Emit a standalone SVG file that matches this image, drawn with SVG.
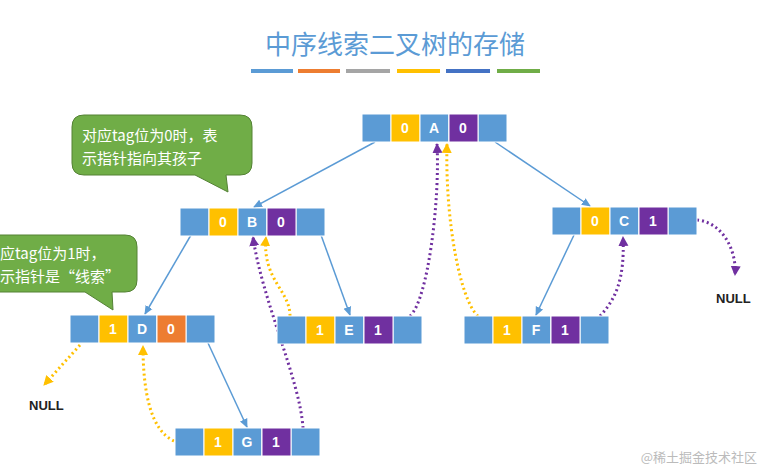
<svg xmlns="http://www.w3.org/2000/svg" width="765" height="470" viewBox="0 0 765 470">
<style>
.c{stroke:#fff;stroke-width:1}
.b{fill:#5b9bd5}.y{fill:#ffc000}.p{fill:#7030a0}.o{fill:#ed7d31}
.t{font-family:"Liberation Sans",sans-serif;font-weight:bold;font-size:14px;fill:#fff;text-anchor:middle}
.e{stroke:#5b9bd5;stroke-width:1.5;fill:none;marker-end:url(#ab)}
.dy{stroke:#ffc000;stroke-width:3;stroke-dasharray:2 3;fill:none;marker-end:url(#ay)}
.dp{stroke:#7030a0;stroke-width:3;stroke-dasharray:2 3;fill:none;marker-end:url(#ap)}
.n{font-family:"Liberation Sans",sans-serif;font-weight:bold;font-size:13px;fill:#222}
.g{font-family:"Noto Sans CJK SC",sans-serif;font-size:15px;fill:#fff}
</style>
<defs>
<marker id="ab" markerWidth="10" markerHeight="10" refX="8" refY="5" orient="auto" markerUnits="userSpaceOnUse"><path d="M0,1L9,5L0,9z" fill="#5b9bd5"/></marker>
<marker id="ay" markerWidth="12" markerHeight="12" refX="9" refY="6" orient="auto" markerUnits="userSpaceOnUse"><path d="M0,1L10,6L0,11z" fill="#ffc000"/></marker>
<marker id="ap" markerWidth="12" markerHeight="12" refX="9" refY="6" orient="auto" markerUnits="userSpaceOnUse"><path d="M0,1L10,6L0,11z" fill="#7030a0"/></marker>
<g id="cell">
<rect class="c b" x="0" y="0" width="29" height="28"/>
<rect class="c y" x="29" y="0" width="29" height="28"/>
<rect class="c b" x="58" y="0" width="29" height="28"/>
<rect class="c b" x="87" y="0" width="29" height="28"/>
<rect class="c b" x="116" y="0" width="29" height="28"/>
</g>
</defs>
<rect width="765" height="470" fill="#fff"/>
<text x="395" y="54" text-anchor="middle" font-family="Noto Sans CJK SC,sans-serif" font-size="26" fill="#5b9bd5">中序线索二叉树的存储</text>
<g stroke-width="4">
<line x1="251" y1="71" x2="293" y2="71" stroke="#5b9bd5"/>
<line x1="298" y1="71" x2="340" y2="71" stroke="#ed7d31"/>
<line x1="346" y1="71" x2="390" y2="71" stroke="#a5a5a5"/>
<line x1="397" y1="71" x2="440" y2="71" stroke="#ffc000"/>
<line x1="446" y1="71" x2="490" y2="71" stroke="#4472c4"/>
<line x1="497" y1="71" x2="540" y2="71" stroke="#70ad47"/>
</g>
<g id="callout1">
<path d="M84,115H240Q252,115 252,127V163Q252,175 240,175H226L228,192L195,175H84Q72,175 72,163V127Q72,115 84,115Z" fill="#70ad47" stroke="#548235"/>
<text class="g" x="82" y="141">对应tag位为0时，表</text>
<text class="g" x="82" y="164">示指针指向其孩子</text>
</g>
<g id="callout2">
<path d="M-10,235H125Q137,235 137,247V280Q137,292 125,292H112L113,310L85,292H-10Z" fill="#70ad47" stroke="#548235"/>
<text class="g" x="0" y="259">应tag位为1时，</text>
<text class="g" x="0" y="282">示指针是“线索”</text>
</g>
<g id="connectors">
<line class="e" x1="375" y1="142" x2="254" y2="207"/>
<line class="e" x1="495" y1="142" x2="590" y2="206"/>
<line class="e" x1="191" y1="235" x2="145" y2="314"/>
<line class="e" x1="321" y1="235" x2="350" y2="315"/>
<line class="e" x1="574" y1="235" x2="536" y2="315"/>
<line class="e" x1="208" y1="343" x2="247" y2="427"/>
<path class="dy" d="M80,345L44,385"/>
<path class="dy" d="M174,441C150,430 143,390 143,346"/>
<path class="dp" d="M303,428C300,380 262,300 253,237"/>
<path class="dy" d="M290,316C290,290 262,280 266,237"/>
<path class="dp" d="M410,316C428,300 440,200 437,144"/>
<path class="dy" d="M478,316C460,300 445,220 447,144"/>
<path class="dp" d="M600,316C615,300 625,280 623,237"/>
<path class="dp" d="M697,220C722,222 737,250 735,275"/>
</g>
<g id="A"><use href="#cell" x="362" y="114"/><rect class="c p" x="449" y="114" width="29" height="28"/><text class="t" x="405" y="133">0</text><text class="t" x="434" y="133">A</text><text class="t" x="463" y="133">0</text></g>
<g id="B"><use href="#cell" x="180" y="208"/><rect class="c p" x="267" y="208" width="29" height="28"/><text class="t" x="223" y="227">0</text><text class="t" x="252" y="227">B</text><text class="t" x="281" y="227">0</text></g>
<g id="C"><use href="#cell" x="552" y="207"/><rect class="c p" x="639" y="207" width="29" height="28"/><text class="t" x="595" y="226">0</text><text class="t" x="624" y="226">C</text><text class="t" x="653" y="226">1</text></g>
<g id="D"><use href="#cell" x="70" y="315"/><rect class="c o" x="157" y="315" width="29" height="28"/><text class="t" x="113" y="334">1</text><text class="t" x="142" y="334">D</text><text class="t" x="171" y="334">0</text></g>
<g id="E"><use href="#cell" x="277" y="316"/><rect class="c p" x="364" y="316" width="29" height="28"/><text class="t" x="320" y="335">1</text><text class="t" x="349" y="335">E</text><text class="t" x="378" y="335">1</text></g>
<g id="F"><use href="#cell" x="464" y="316"/><rect class="c p" x="551" y="316" width="29" height="28"/><text class="t" x="507" y="335">1</text><text class="t" x="536" y="335">F</text><text class="t" x="565" y="335">1</text></g>
<g id="G"><use href="#cell" x="175" y="428"/><rect class="c p" x="262" y="428" width="29" height="28"/><text class="t" x="218" y="447">1</text><text class="t" x="247" y="447">G</text><text class="t" x="276" y="447">1</text></g>
<text class="n" x="29" y="410">NULL</text>
<text class="n" x="716" y="303">NULL</text>
<text x="757" y="462" text-anchor="end" font-family="Noto Sans CJK SC,sans-serif" font-size="13" fill="#bbb">@稀土掘金技术社区</text>
</svg>
